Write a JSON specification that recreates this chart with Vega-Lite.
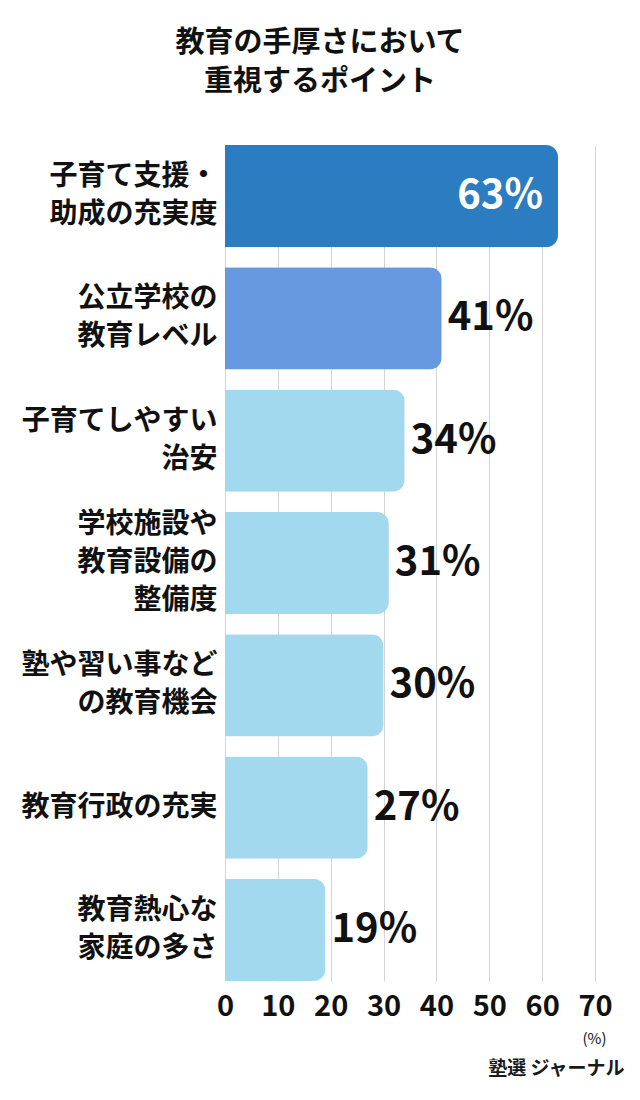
{
  "$schema": "https://vega.github.io/schema/vega-lite/v6.json",
  "width": 370,
  "height": 836,
  "autosize": {"type": "none"},
  "padding": {"top": 145, "left": 225, "right": 45, "bottom": 119},
  "background": "white",
  "config": {
    "font": "Noto Sans CJK JP",
    "view": {"stroke": null}
  },
  "title": {
    "text": ["教育の手厚さにおいて", "重視するポイント"],
    "fontSize": 29,
    "fontWeight": "bold",
    "color": "#111111",
    "lineHeight": 39,
    "anchor": "middle",
    "frame": "group",
    "dx": -90,
    "offset": 19,
    "baseline": "bottom"
  },
  "data": {
    "values": [
      {"item": "子育て支援・\n助成の充実度", "value": 63},
      {"item": "公立学校の\n教育レベル", "value": 41},
      {"item": "子育てしやすい\n治安", "value": 34},
      {"item": "学校施設や\n教育設備の\n整備度", "value": 31},
      {"item": "塾や習い事など\nの教育機会", "value": 30},
      {"item": "教育行政の充実", "value": 27},
      {"item": "教育熱心な\n家庭の多さ", "value": 19}
    ]
  },
  "transform": [
    {"calculate": "datum.value + '%'", "as": "pct"}
  ],
  "encoding": {
    "y": {
      "field": "item",
      "type": "nominal",
      "sort": null,
      "scale": {"paddingInner": 0.165, "paddingOuter": 0},
      "axis": {
        "title": null,
        "labelExpr": "split(datum.label, '\\n')",
        "labelFontSize": 28,
        "labelFontWeight": "bold",
        "labelColor": "#111111",
        "labelLineHeight": 38,
        "labelPadding": 8,
        "labelLimit": 0,
        "labelOffset": {
          "condition": [
            {"test": "length(split(datum.value, '\\n')) == 3", "value": -38},
            {"test": "length(split(datum.value, '\\n')) == 1", "value": 0}
          ],
          "value": -19
        },
        "ticks": false,
        "domain": false
      }
    }
  },
  "layer": [
    {
      "mark": {"type": "bar", "cornerRadiusEnd": 12},
      "encoding": {
        "x": {
          "field": "value",
          "type": "quantitative",
          "scale": {"domain": [0, 70], "nice": false},
          "axis": {
            "orient": "bottom",
            "values": [0, 10, 20, 30, 40, 50, 60, 70],
            "grid": true,
            "gridColor": "#d4d4d4",
            "gridWidth": 1,
            "ticks": false,
            "domain": false,
            "labelFontSize": 29,
            "labelFontWeight": "bold",
            "labelColor": "#111111",
            "labelPadding": 11,
            "labelFlush": false,
            "title": "(%)",
            "titleFontSize": 15,
            "titleFontWeight": "normal",
            "titleColor": "#111111",
            "titleX": 369,
            "titleY": 57,
            "titleAlign": "center",
            "titleBaseline": "middle"
          }
        },
        "color": {
          "field": "item",
          "type": "nominal",
          "scale": {
            "domain": [
              "子育て支援・\n助成の充実度",
              "公立学校の\n教育レベル",
              "子育てしやすい\n治安",
              "学校施設や\n教育設備の\n整備度",
              "塾や習い事など\nの教育機会",
              "教育行政の充実",
              "教育熱心な\n家庭の多さ"
            ],
            "range": ["#2b7cc0", "#6699df", "#a3d9ee", "#a3d9ee", "#a3d9ee", "#a3d9ee", "#a3d9ee"]
          },
          "legend": null
        }
      }
    },
    {
      "transform": [{"filter": "datum.value < 50"}],
      "mark": {
        "type": "text",
        "align": "left",
        "baseline": "middle",
        "dx": 6,
        "fontSize": 40,
        "fontWeight": "bold",
        "color": "#111111"
      },
      "encoding": {
        "x": {
          "field": "value",
          "type": "quantitative",
          "axis": {
            "orient": "bottom",
            "labels": false,
            "ticks": false,
            "domain": false,
            "grid": false,
            "title": "塾選 ジャーナル",
            "titleFontSize": 19,
            "titleFontWeight": "bold",
            "titleColor": "#1a1a1a",
            "titleX": 399,
            "titleY": 87,
            "titleAlign": "right",
            "titleBaseline": "middle"
          }
        },
        "text": {"field": "pct"}
      }
    },
    {
      "transform": [{"filter": "datum.value >= 50"}],
      "mark": {
        "type": "text",
        "align": "right",
        "baseline": "middle",
        "dx": -15,
        "fontSize": 40,
        "fontWeight": "bold",
        "color": "white"
      },
      "encoding": {
        "x": {"field": "value", "type": "quantitative", "axis": null},
        "text": {"field": "pct"}
      }
    }
  ],
  "resolve": {"axis": {"x": "independent"}}
}
